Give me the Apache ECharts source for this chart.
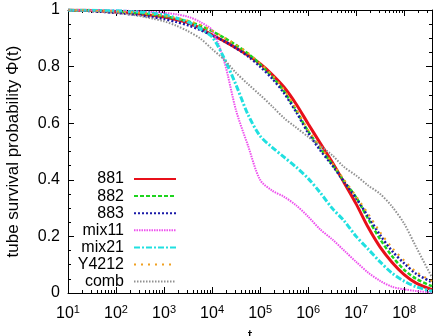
<!DOCTYPE html>
<html>
<head>
<meta charset="utf-8">
<script src="https://cdn.jsdelivr.net/npm/echarts@6/dist/echarts.min.js"></script>
<style>
  html, body { margin: 0; padding: 0; background: #fff; }
  #chart { width: 440px; height: 336px; }
</style>
</head>
<body>
<div id="chart"></div>
<script>
// time points (log spaced, quarter decades, last one is the right edge)
const times = [10, 17.8, 31.6, 56.2, 100, 178, 316, 562, 1000, 1780, 3160, 5620,
  1e4, 1.78e4, 3.16e4, 5.62e4, 1e5, 1.78e5, 3.16e5, 5.62e5, 1e6, 1.78e6, 3.16e6, 5.62e6,
  1e7, 1.78e7, 3.16e7, 5.62e7, 1e8, 1.78e8, 3.8e8]

const s881 = [1.000, .999, .998, .996, .993, .990, .986, .981, .975, .966, .955, .936,
  .912, .890, .866, .840, .810, .772, .727, .668, .598, .530, .463, .390,
  .315, .232, .162, .108, .065, .035, .012]
const s882 = [1.000, .999, .998, .997, .995, .992, .989, .984, .978, .970, .960, .945,
  .925, .902, .876, .846, .808, .765, .712, .645, .572, .512, .455, .395,
  .338, .262, .190, .130, .082, .050, .024]
const s883 = [1.000, .998, .996, .993, .990, .986, .981, .975, .968, .958, .946, .930,
  .910, .890, .865, .836, .800, .758, .706, .640, .566, .505, .452, .393,
  .335, .270, .205, .148, .105, .068, .038]
const sMix11 = [1.000, 1.000, .999, .999, .998, .997, .995, .993, .990, .985, .976, .958,
  .928, .820, .645, .520, .400, .362, .340, .310, .270, .225, .190, .150,
  .110, .072, .043, .022, .013, .007, .002]
const sMix21 = [1.000, .999, .999, .998, .997, .995, .993, .989, .983, .972, .958, .935,
  .905, .830, .735, .630, .555, .515, .480, .445, .405, .355, .300, .255,
  .200, .155, .110, .070, .042, .022, .006]
const sY4212 = [1.000, .999, .998, .997, .995, .993, .990, .985, .980, .972, .962, .948,
  .928, .903, .878, .848, .812, .770, .718, .650, .577, .517, .460, .400,
  .342, .280, .215, .160, .115, .075, .042]
const sComb = [1.000, .998, .996, .993, .990, .985, .979, .970, .960, .945, .925, .900,
  .862, .825, .778, .738, .700, .660, .618, .585, .552, .520, .487, .445,
  .415, .380, .350, .305, .245, .162, .055]

const majorTicks = [10, 100, 1e3, 1e4, 1e5, 1e6, 1e7, 1e8]
const minorTicks = []
majorTicks.forEach(function (m) {
  for (let k = 2; k <= 9; k++) {
    if (k * m < 3.8e8) minorTicks.push(k * m)
  }
})

const font = 'Liberation Sans, Arial, sans-serif'
const xMin = 10
const xMax = 3.8e8

function pairs(vals) {
  return times.map(function (t, i) { return [t, vals[i]] })
}

function line(name, vals, color, width, dash) {
  return {
    name: name,
    type: 'line',
    xAxisIndex: 0,
    yAxisIndex: 0,
    showSymbol: false,
    symbol: 'none',
    smooth: 0.3,
    data: pairs(vals),
    lineStyle: { color: color, width: width, type: dash },
    itemStyle: { color: color },
  }
}

function xAxisBase(pos, ticks, len, showLine) {
  return {
    type: 'log',
    logBase: 10,
    position: pos,
    min: xMin,
    max: xMax,
    axisLine: { show: showLine, onZero: false, lineStyle: { color: '#000', width: 1 } },
    axisTick: { show: true, inside: true, length: len, customValues: ticks, lineStyle: { color: '#000' } },
    axisLabel: { show: false },
    splitLine: { show: false },
  }
}

const xMain = xAxisBase('bottom', majorTicks, 6, true)
xMain.axisLabel = {
  show: true,
  customValues: majorTicks,
  margin: 11,
  formatter: function (v) {
    return '{b|10}{s|' + Math.round(Math.log10(v)) + '}'
  },
  rich: {
    b: { fontSize: 16, fontFamily: font, color: '#000' },
    s: { fontSize: 11, fontFamily: font, color: '#000', padding: [0, 0, 8, 0] },
  },
}
xMain.name = 't'
xMain.nameLocation = 'middle'
xMain.nameGap = 36
xMain.nameTextStyle = { fontSize: 16, fontFamily: font, color: '#000' }

function yAxisBase(pos) {
  return {
    type: 'value',
    position: pos,
    min: 0,
    max: 1,
    interval: 0.2,
    axisLine: { show: true, lineStyle: { color: '#000', width: 1 } },
    axisTick: { show: true, inside: true, length: 6, lineStyle: { color: '#000' } },
    minorTick: { show: true, splitNumber: 4, length: 3, lineStyle: { color: '#000' } },
    axisLabel: { show: false },
    splitLine: { show: false },
  }
}

const yMain = yAxisBase('left')
yMain.axisLabel = { show: true, margin: 8, fontSize: 16, fontFamily: font, color: '#000' }
yMain.name = 'tube survival probability \u03A6(t)'
yMain.nameLocation = 'middle'
yMain.nameGap = 46
yMain.nameTextStyle = { fontSize: 17, fontFamily: font, color: '#000' }

const chart = echarts.init(document.getElementById('chart'))
chart.setOption({
  backgroundColor: '#fff',
  animation: false,
  grid: { left: 68, right: 8, top: 10, bottom: 43, outerBoundsMode: 'none' },
  xAxis: [
    xMain,
    xAxisBase('top', majorTicks, 6, true),
    xAxisBase('bottom', minorTicks, 3, false),
    xAxisBase('top', minorTicks, 3, false),
  ],
  yAxis: [yMain, yAxisBase('right')],
  legend: {
    orient: 'vertical',
    align: 'right',
    right: 258,
    top: 166,
    itemWidth: 42,
    itemHeight: 14,
    itemGap: 1.1,
    itemStyle: { opacity: 0 },
    textStyle: { fontSize: 16, fontFamily: font, color: '#000', padding: [0, 5, 0, 0] },
    data: ['881', '882', '883', 'mix11', 'mix21', 'Y4212', 'comb'],
  },
  series: [
    line('881', s881, '#e8101a', 3, 'solid'),
    line('882', s882, '#1ed41e', 2.5, [4, 2]),
    line('883', s883, '#1a1aa8', 2.5, [2, 2]),
    line('mix11', sMix11, '#ee50ee', 2, [1.5, 1]),
    line('mix21', sMix21, '#20e0e0', 3, [6, 2, 2, 2]),
    line('Y4212', sY4212, '#f0a020', 2, [2, 5]),
    line('comb', sComb, '#909090', 2, [1.5, 1.5]),
  ],
})
</script>
</body>
</html>
